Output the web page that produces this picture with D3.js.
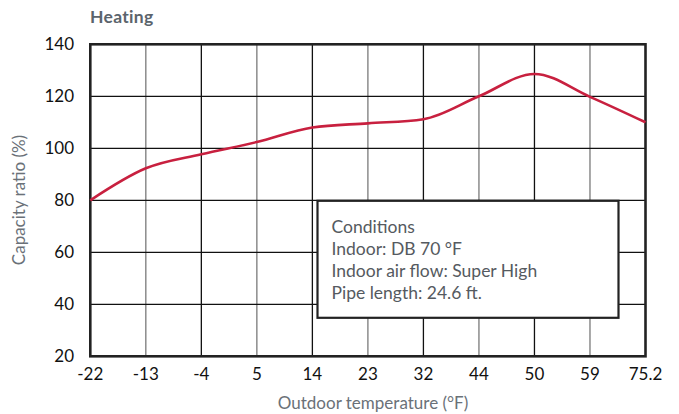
<!DOCTYPE html>
<html><head><meta charset="utf-8">
<script src="https://cdn.jsdelivr.net/npm/d3@7"></script>
<style>body{margin:0;background:#fff;} svg{display:block;font-family:Lato,"Open Sans",sans-serif;}</style>
</head><body><svg id="c" width="679" height="414"></svg>
<script>
const xLabels = ["-22","-13","-4","5","14","23","32","44","50","59","75.2"];
const capacity = [80, 92.3, 97.7, 102.4, 108, 109.6, 111.2, 120, 128.6, 119.8, 110];
const yTicks = [20, 40, 60, 80, 100, 120, 140];
const conditions = ["Conditions","Indoor: DB 70 °F","Indoor air flow: Super High","Pipe length: 24.6 ft."];

const svg = d3.select("#c");
const L = 90.3, R = 645.5, T = 44.3, B = 356.3;
const x = d3.scalePoint().domain(xLabels).range([L, R]);
const y = d3.scaleLinear().domain([20, 140]).range([B, T]);

svg.append("g").selectAll("line").data(xLabels.slice(1, -1)).join("line")
  .attr("x1", d => x(d)).attr("x2", d => x(d)).attr("y1", T).attr("y2", B)
  .attr("stroke", (d, i) => i % 2 === 0 ? "#7a7a7a" : "#111").attr("stroke-width", 1.3);
svg.append("g").selectAll("line").data(yTicks.slice(1, -1)).join("line")
  .attr("x1", L).attr("x2", R).attr("y1", d => y(d)).attr("y2", d => y(d))
  .attr("stroke", "#111").attr("stroke-width", 1.3);

svg.append("rect").attr("x", L).attr("y", T).attr("width", R - L).attr("height", B - T)
  .attr("fill", "none").attr("stroke", "#222").attr("stroke-width", 2.6);

svg.append("g").selectAll("text").data(yTicks).join("text")
  .attr("x", 74).attr("y", d => y(d) + 6).attr("text-anchor", "end")
  .attr("font-size", 17).attr("fill", "#111").text(d => d);
svg.append("g").selectAll("text").data(xLabels).join("text")
  .attr("x", d => x(d)).attr("y", 380).attr("text-anchor", "middle")
  .attr("font-size", 17).attr("fill", "#111").text(d => d);

const line = d3.line().x((d, i) => x(xLabels[i])).y(d => y(d)).curve(d3.curveMonotoneX);
svg.append("path").datum(capacity).attr("d", line)
  .attr("fill", "none").attr("stroke", "#c8203f").attr("stroke-width", 2.6);

svg.append("rect").attr("x", 317.5).attr("y", 200.8).attr("width", 301).attr("height", 117)
  .attr("fill", "#fff").attr("stroke", "#222").attr("stroke-width", 2.2);
svg.append("g").selectAll("text").data(conditions).join("text")
  .attr("x", 331.5).attr("y", (d, i) => 232.7 + i * 22.2)
  .attr("font-size", 17.5).attr("fill", "#555a60").text(d => d);

svg.append("text").attr("x", 90).attr("y", 23).attr("font-size", 17.5).attr("font-weight", "bold")
  .attr("letter-spacing", 0.3).attr("fill", "#5b646c").text("Heating");
svg.append("text").attr("transform", "translate(25,200) rotate(-90)").attr("text-anchor", "middle")
  .attr("font-size", 17).attr("fill", "#6a7178").text("Capacity ratio (%)");
svg.append("text").attr("x", 373).attr("y", 409).attr("text-anchor", "middle")
  .attr("font-size", 17).attr("fill", "#6a7178").text("Outdoor temperature (°F)");
</script></body></html>
